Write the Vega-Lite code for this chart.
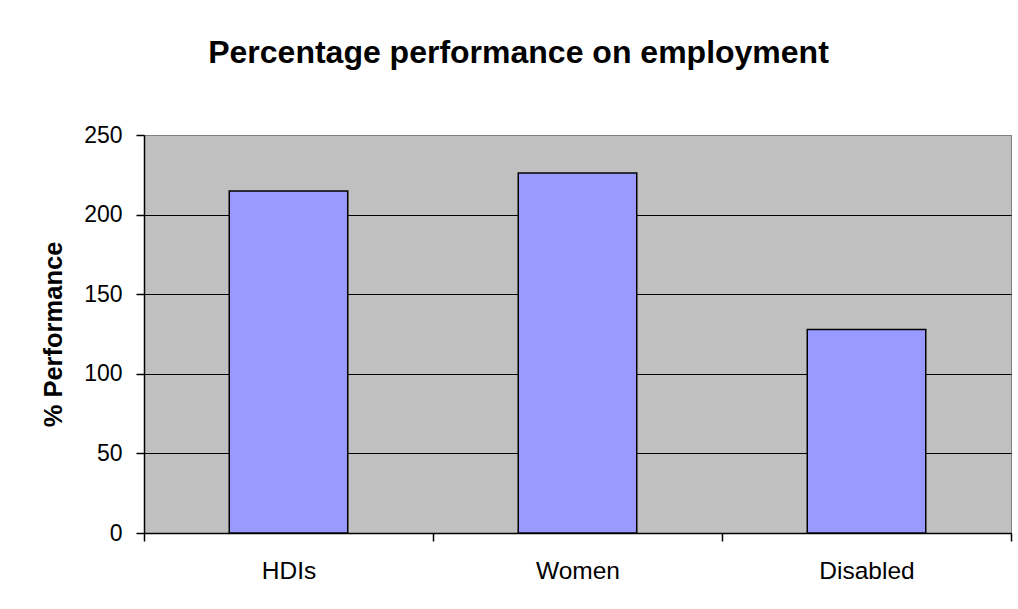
{
  "$schema": "https://vega.github.io/schema/vega-lite/v6.json",
  "autosize": {"type": "none"},
  "width": 867,
  "height": 398,
  "padding": {"left": 144, "top": 135, "right": 7, "bottom": 76},
  "background": "white",
  "config": {
    "font": "Liberation Sans",
    "view": {"fill": "#C0C0C0", "stroke": "#808080", "strokeWidth": 1}
  },
  "title": {
    "text": "Percentage performance on employment",
    "font": "Liberation Sans",
    "fontSize": 32,
    "fontWeight": "bold",
    "color": "black",
    "anchor": "middle",
    "dx": -59,
    "offset": 54
  },
  "data": {
    "values": [
      {"group": "HDIs", "performance": 214.8},
      {"group": "Women", "performance": 226.1},
      {"group": "Disabled", "performance": 127.8}
    ]
  },
  "mark": {"type": "bar", "fill": "#9999FF", "stroke": "black", "strokeWidth": 1.5, "width": {"band": 0.41}},
  "encoding": {
    "x": {
      "field": "group",
      "type": "nominal",
      "sort": null,
      "scale": {"paddingInner": 0, "paddingOuter": 0},
      "axis": {
        "title": null,
        "labelAngle": 0,
        "labelFont": "Liberation Sans",
        "labelFontSize": 24.5,
        "labelColor": "black",
        "labelPadding": 18,
        "tickBand": "extent",
        "tickSize": 8,
        "tickColor": "black",
        "tickWidth": 1.5,
        "domainColor": "black",
        "domainWidth": 1.5,
        "grid": false
      }
    },
    "y": {
      "field": "performance",
      "type": "quantitative",
      "scale": {"domain": [0, 250], "nice": false},
      "axis": {
        "title": "% Performance",
        "titleFont": "Liberation Sans",
        "titleFontSize": 25.5,
        "titleFontWeight": "bold",
        "titleColor": "black",
        "titlePadding": 17,
        "values": [0, 50, 100, 150, 200, 250],
        "labelFont": "Liberation Sans",
        "labelFontSize": 23,
        "labelColor": "black",
        "labelPadding": 14,
        "tickSize": 8,
        "tickColor": "black",
        "tickWidth": 1.5,
        "domainColor": "black",
        "domainWidth": 1.5,
        "grid": true,
        "gridColor": {"condition": {"test": "datum.value == 250", "value": "#808080"}, "value": "black"},
        "gridWidth": 1.2,
        "gridOpacity": 1
      }
    }
  }
}
